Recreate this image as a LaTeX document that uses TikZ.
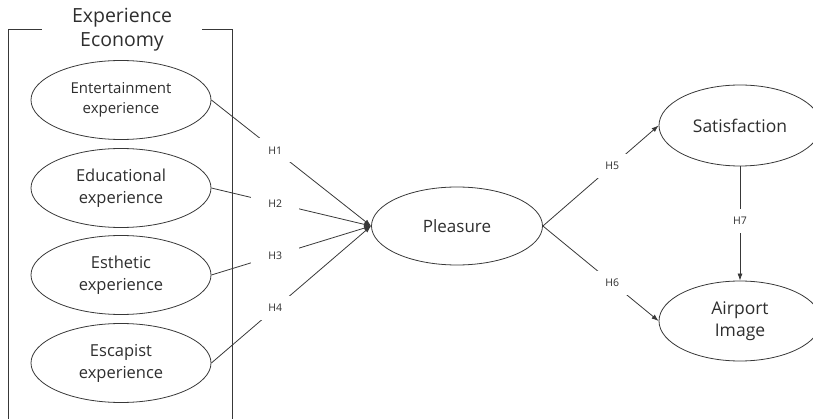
\documentclass[tikz,border=0pt]{standalone}
\usepackage{fontspec}
\setmainfont{Open Sans}
\usetikzlibrary{shapes.geometric,arrows.meta}
\definecolor{ink}{HTML}{2E2E2E}
\definecolor{linec}{HTML}{383838}
\tikzset{
  construct/.style={ellipse,draw=linec,line width=0.8pt,inner sep=0pt,align=center,text=ink},
  leftc/.style={construct,minimum width=180pt,minimum height=79pt,font=\fontsize{16.5}{22}\selectfont},
  hyp/.style={fill=white,minimum width=48pt,minimum height=24pt,inner sep=0pt,text=ink,font=\fontsize{10.5}{12}\selectfont},
  path/.style={draw=linec,line width=0.8pt,-{Latex[length=7pt,width=5pt]}},
  frame/.style={draw=linec,line width=0.8pt}
}
\begin{document}
\begin{tikzpicture}[x=1pt,y=-1pt]
\useasboundingbox (0,0) rectangle (813,419);
\clip (0,0) rectangle (813,419);
% bracket frame
\draw[frame] (8,419) -- (8,29) -- (42,29);
\draw[frame] (202,29) -- (232,29) -- (232,419);
\node[text=ink,align=center,font=\fontsize{19.5}{24}\selectfont] (title) at (122,30) {Experience\\Economy};
% constructs
\node[leftc,font=\fontsize{15}{20}\selectfont] (ent) at (121,100) {Entertainment\\experience};
\node[leftc] (edu) at (121,188) {Educational\\experience};
\node[leftc] (est) at (121,275) {Esthetic\\experience};
\node[leftc] (esc) at (121,363) {Escapist\\experience};
\node[construct,minimum width=171pt,minimum height=78pt,font=\fontsize{17}{22}\selectfont] (ple) at (457,226) {Pleasure};
\node[construct,minimum width=162pt,minimum height=81pt,font=\fontsize{17.5}{22}\selectfont] (sat) at (740,125.5) {Satisfaction};
\node[construct,minimum width=162pt,minimum height=80pt,font=\fontsize{17.5}{22}\selectfont] (air) at (740,321) {Airport\\Image};
% paths
\draw[path] (ent.east) -- node[hyp,pos=0.4] {H1} (ple.west);
\draw[path] (edu.east) -- node[hyp,pos=0.4] {H2} (ple.west);
\draw[path] (est.east) -- node[hyp,pos=0.4] {H3} (ple.west);
\draw[path] (esc.east) -- node[hyp,pos=0.4] {H4} (ple.west);
\draw[path] (ple.east) -- node[hyp,pos=0.6] {H5} (sat.west);
\draw[path] (ple.east) -- node[hyp,pos=0.6] {H6} (air.west);
\draw[path] (sat.south) -- node[hyp,pos=0.48] {H7} (air.north);
\end{tikzpicture}
\end{document}
